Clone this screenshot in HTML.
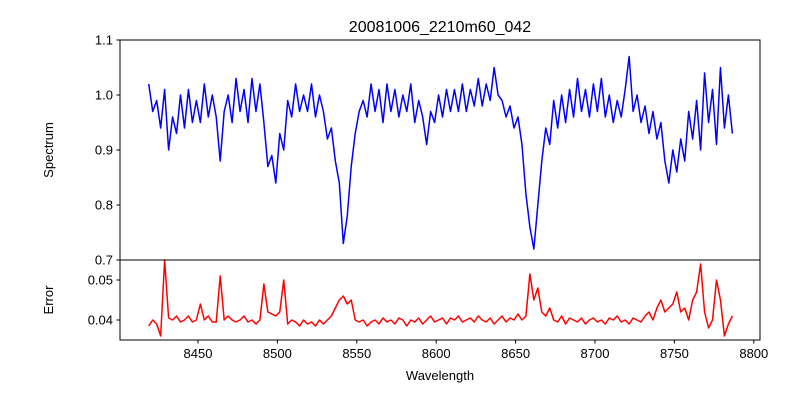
<!DOCTYPE html>
<html><head><meta charset="utf-8"><style>
body{margin:0;background:#fff}
svg{font-family:"Liberation Sans","DejaVu Sans",sans-serif}
</style></head><body>
<svg id="chart" width="800" height="400" xmlns="http://www.w3.org/2000/svg">
<text x="440" y="32" font-size="16" text-anchor="middle">20081006_2210m60_042</text>
<text transform="translate(53,150) rotate(-90)" font-size="13" text-anchor="middle">Spectrum</text>
<text transform="translate(53,300) rotate(-90)" font-size="13" text-anchor="middle">Error</text>
<text x="440" y="380" font-size="13" text-anchor="middle">Wavelength</text>
<g id="g"></g>
</svg>
<script>
const waveStart = 8419;
const waveStep = 2.5;
const spectrum = [1.02,0.97,0.99,0.94,1.01,0.90,0.96,0.93,1.00,0.94,1.01,0.95,0.99,0.95,1.02,0.96,1.00,0.96,0.88,0.97,
1.00,0.95,1.03,0.97,1.01,0.95,1.03,0.97,1.02,0.95,0.87,0.89,0.84,0.93,0.90,0.99,0.96,1.02,0.97,1.00,
0.97,1.02,0.96,1.00,0.97,0.92,0.94,0.88,0.84,0.73,0.78,0.87,0.93,0.97,0.99,0.96,1.02,0.97,1.01,0.95,
1.02,0.97,1.01,0.96,1.00,0.97,1.02,0.95,0.99,0.96,0.91,0.97,0.95,1.00,0.96,1.01,0.97,1.01,0.97,1.02,
0.97,1.01,0.98,1.03,0.98,1.02,0.99,1.05,1.00,0.99,0.96,0.98,0.94,0.96,0.91,0.82,0.76,0.72,0.80,0.88,
0.94,0.91,0.99,0.94,1.00,0.95,1.01,0.96,1.03,0.97,1.01,0.96,1.02,0.97,1.03,0.96,1.00,0.95,0.99,0.96,
1.01,1.07,0.97,1.00,0.95,0.98,0.93,0.97,0.92,0.95,0.88,0.84,0.90,0.86,0.92,0.88,0.97,0.92,0.99,0.90,
1.04,0.95,1.01,0.91,1.05,0.94,1.00,0.93];
const errors = [0.0385,0.040,0.039,0.036,0.055,0.0405,0.040,0.041,0.0395,0.040,0.041,0.0395,0.040,0.044,0.040,0.041,0.0395,0.0395,0.051,0.040,
0.041,0.040,0.0395,0.040,0.041,0.0395,0.040,0.039,0.040,0.049,0.042,0.0415,0.041,0.042,0.050,0.039,0.040,0.0395,0.0385,0.040,
0.039,0.0395,0.0385,0.040,0.039,0.040,0.041,0.043,0.045,0.046,0.044,0.045,0.040,0.0395,0.040,0.0385,0.0395,0.040,0.039,0.0405,
0.0395,0.040,0.039,0.0405,0.040,0.0385,0.040,0.0395,0.0405,0.039,0.040,0.041,0.0395,0.040,0.0405,0.039,0.0405,0.040,0.041,0.0395,
0.040,0.0405,0.0395,0.041,0.040,0.0395,0.0405,0.039,0.040,0.041,0.0395,0.0405,0.040,0.0415,0.040,0.041,0.0515,0.045,0.048,0.042,
0.041,0.043,0.040,0.0395,0.041,0.039,0.0405,0.040,0.0395,0.0405,0.039,0.040,0.0405,0.0395,0.040,0.039,0.0405,0.040,0.041,0.0395,
0.040,0.039,0.0405,0.040,0.0395,0.041,0.042,0.040,0.043,0.045,0.042,0.043,0.044,0.047,0.042,0.043,0.040,0.045,0.047,0.054,
0.042,0.038,0.040,0.050,0.045,0.036,0.039,0.041];
const specTicks = [0.7,0.8,0.9,1.0,1.1];
const specTickLabels = ["0.7","0.8","0.9","1.0","1.1"];
const errTicks = [0.04,0.05];
const errTickLabels = ["0.04","0.05"];
const xTicks = [8450,8500,8550,8600,8650,8700,8750,8800];

const L=120,R=760,T1=40,B1=260,T2=260,B2=340;
const xMin=8400.9,xMax=8803.9;
const xs=v=>L+(v-xMin)/(xMax-xMin)*(R-L);
const ys1=v=>B1-(v-0.7)/(0.4)*(B1-T1);
const ys2=v=>B2-(v-0.035)/(0.02)*(B2-T2);
const NS="http://www.w3.org/2000/svg";
const g=document.getElementById('g');
function mk(tag,attrs){const e=document.createElementNS(NS,tag);for(const k in attrs)e.setAttribute(k,attrs[k]);g.appendChild(e);return e;}

let p1=spectrum.map((v,i)=>(i?'L':'M')+xs(waveStart+i*waveStep).toFixed(2)+','+ys1(v).toFixed(2)).join('');
let l1=mk('path',{d:p1,fill:'none',stroke:'#0000ff','stroke-width':1.5,'stroke-linejoin':'round'});


let p2=errors.map((v,i)=>(i?'L':'M')+xs(waveStart+i*waveStep).toFixed(2)+','+ys2(v).toFixed(2)).join('');
let l2=mk('path',{d:p2,fill:'none',stroke:'#ff0000','stroke-width':1.5,'stroke-linejoin':'round'});



let f1=mk('rect',{x:L,y:T1,width:R-L,height:B1-T1,fill:'none',stroke:'#000','stroke-width':1});


let f2=mk('rect',{x:L,y:T2,width:R-L,height:B2-T2,fill:'none',stroke:'#000','stroke-width':1});



specTicks.forEach((v,i)=>{const y=ys1(v);
 mk('line',{x1:L-3.5,x2:L,y1:y,y2:y,stroke:'#000'});
 const t=mk('text',{x:L-7,y:y+4.5,'font-size':13,'text-anchor':'end'});t.textContent=specTickLabels[i];
 
 });
errTicks.forEach((v,i)=>{const y=ys2(v);
 mk('line',{x1:L-3.5,x2:L,y1:y,y2:y,stroke:'#000'});
 const t=mk('text',{x:L-7,y:y+4.5,'font-size':13,'text-anchor':'end'});t.textContent=errTickLabels[i];
 
 });
xTicks.forEach(v=>{const x=xs(v);
 mk('line',{x1:x,x2:x,y1:B2,y2:B2+3.5,stroke:'#000'});
 const t=mk('text',{x:x,y:B2+18,'font-size':13,'text-anchor':'middle'});t.textContent=String(v);
 
 });
</script>
</body></html>
